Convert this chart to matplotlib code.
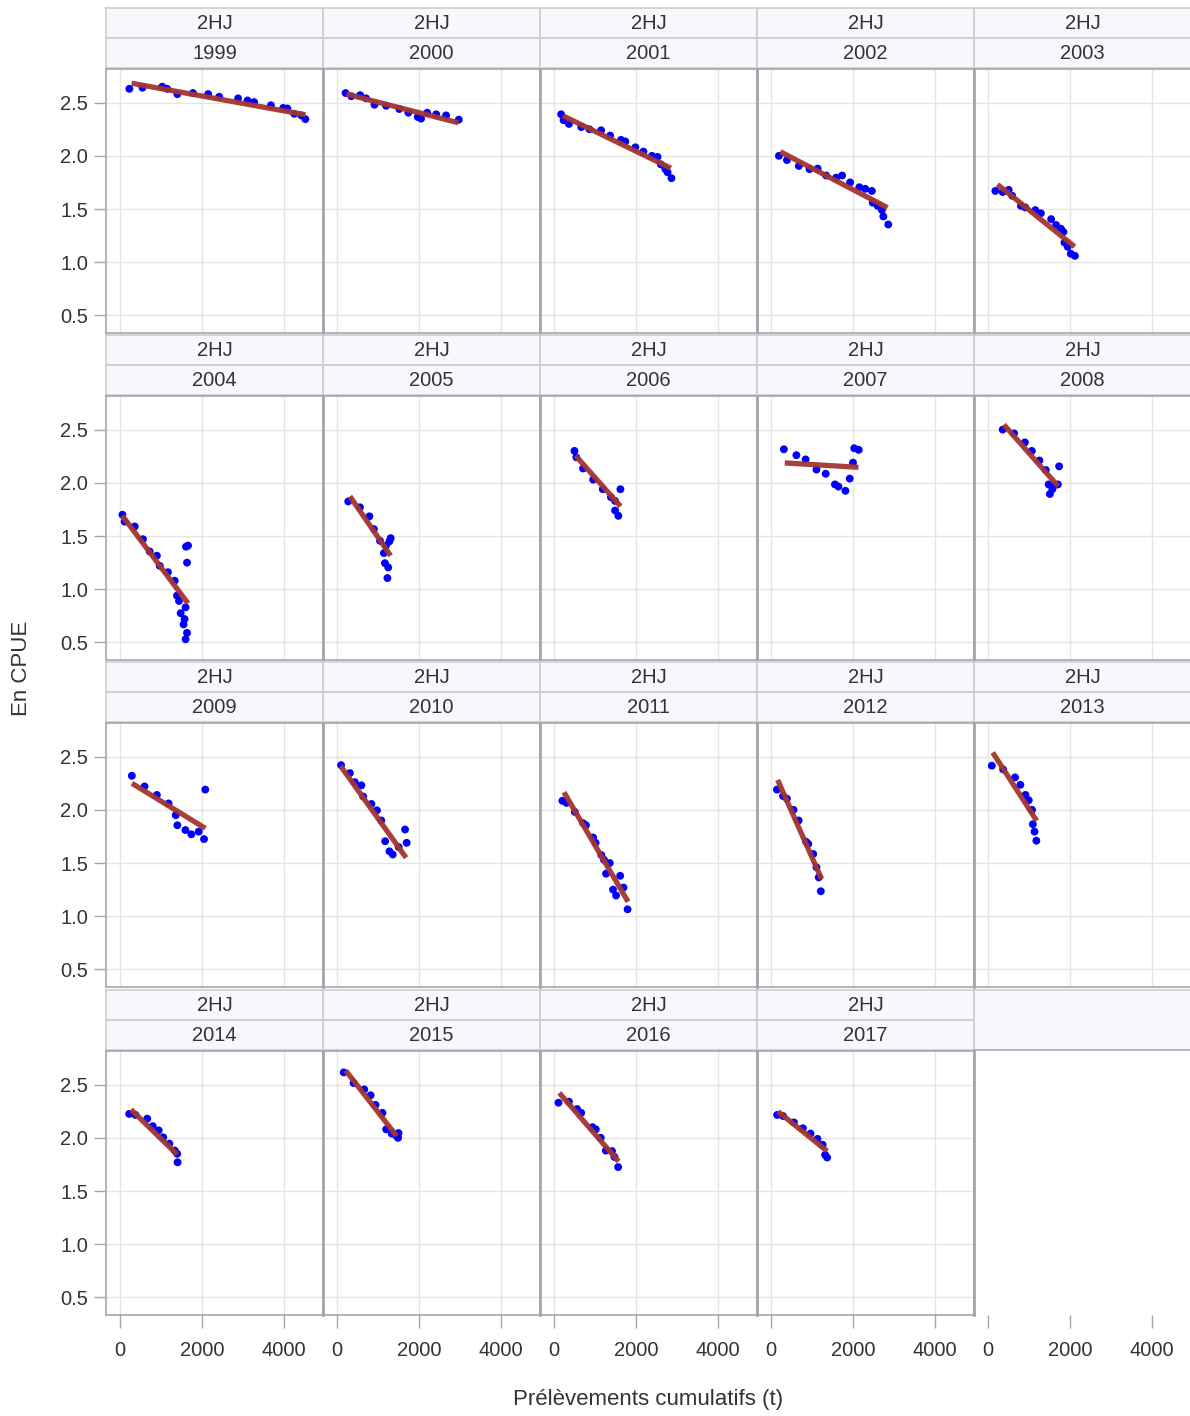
import matplotlib
matplotlib.use("Agg")
import matplotlib.pyplot as plt

plt.rcParams['font.family'] = ['Liberation Sans', 'DejaVu Sans']

group_label = "2HJ"
years = [1999, 2000, 2001, 2002, 2003, 2004, 2005, 2006, 2007, 2008,
         2009, 2010, 2011, 2012, 2013, 2014, 2015, 2016, 2017]

x1999 = [230, 550, 1030, 1150, 1400, 1780, 2150, 2420, 2880, 3110, 3270, 3680, 3980, 4080, 4250, 4420, 4520]
y1999 = [2.63, 2.64, 2.65, 2.63, 2.58, 2.59, 2.58, 2.555, 2.54, 2.52, 2.505, 2.475, 2.45, 2.445, 2.395, 2.38, 2.345]
x2000 = [210, 350, 565, 710, 915, 1200, 1520, 1740, 1970, 2050, 2200, 2420, 2660, 2970]
y2000 = [2.59, 2.56, 2.57, 2.54, 2.48, 2.47, 2.44, 2.405, 2.365, 2.35, 2.405, 2.39, 2.38, 2.34]
x2001 = [175, 235, 365, 665, 865, 1150, 1370, 1635, 1740, 1985, 2180, 2390, 2525, 2605, 2715, 2770, 2865]
y2001 = [2.39, 2.335, 2.30, 2.27, 2.25, 2.24, 2.19, 2.15, 2.135, 2.08, 2.04, 2.0, 1.99, 1.92, 1.875, 1.845, 1.79]
x2002 = [195, 390, 680, 940, 1140, 1345, 1590, 1735, 1930, 2155, 2300, 2460, 2480, 2600, 2705, 2740, 2860]
y2002 = [2.0, 1.96, 1.905, 1.875, 1.88, 1.815, 1.795, 1.815, 1.75, 1.705, 1.69, 1.67, 1.56, 1.53, 1.49, 1.43, 1.355]
x2003 = [180, 360, 505, 590, 805, 910, 1155, 1290, 1540, 1660, 1780, 1840, 1865, 1945, 2020, 2120]
y2003 = [1.67, 1.66, 1.68, 1.625, 1.53, 1.515, 1.49, 1.46, 1.405, 1.35, 1.315, 1.285, 1.185, 1.145, 1.08, 1.06]
x2004 = [60, 115, 360, 560, 725, 900, 970, 1170, 1335, 1390, 1440, 1480, 1550, 1575, 1600, 1600, 1635, 1610, 1660, 1635]
y2004 = [1.70, 1.635, 1.59, 1.47, 1.355, 1.315, 1.22, 1.16, 1.08, 0.94, 0.89, 0.775, 0.67, 0.72, 0.83, 0.53, 0.59, 1.40, 1.41, 1.25]
x2005 = [275, 560, 790, 900, 1050, 1195, 1145, 1310, 1280, 1170, 1250, 1230]
y2005 = [1.825, 1.77, 1.685, 1.565, 1.455, 1.41, 1.34, 1.48, 1.45, 1.245, 1.205, 1.105]
x2006 = [500, 545, 710, 955, 1190, 1390, 1490, 1620, 1490, 1570]
y2006 = [2.30, 2.24, 2.135, 2.03, 1.94, 1.865, 1.83, 1.94, 1.74, 1.69]
x2007 = [315, 620, 845, 1110, 1335, 1560, 1645, 1815, 1920, 2000, 2030, 2140]
y2007 = [2.315, 2.26, 2.22, 2.125, 2.085, 1.985, 1.965, 1.925, 2.04, 2.19, 2.325, 2.31]
x2008 = [360, 635, 900, 1070, 1255, 1410, 1735, 1480, 1615, 1705, 1510, 1570]
y2008 = [2.50, 2.465, 2.38, 2.30, 2.21, 2.12, 2.155, 1.985, 1.975, 1.985, 1.895, 1.94]
x2009 = [290, 600, 900, 1185, 1360, 1400, 1595, 1740, 1920, 2050, 2080]
y2009 = [2.32, 2.22, 2.14, 2.06, 1.95, 1.855, 1.81, 1.77, 1.795, 1.725, 2.19]
x2010 = [100, 315, 435, 595, 640, 840, 975, 1080, 1175, 1280, 1360, 1505, 1660, 1700]
y2010 = [2.42, 2.345, 2.26, 2.23, 2.125, 2.055, 1.995, 1.90, 1.705, 1.61, 1.58, 1.65, 1.815, 1.69]
x2011 = [205, 305, 510, 710, 780, 955, 1015, 1155, 1220, 1360, 1270, 1440, 1515, 1615, 1695, 1795]
y2011 = [2.085, 2.065, 1.98, 1.875, 1.855, 1.74, 1.69, 1.575, 1.53, 1.50, 1.40, 1.25, 1.195, 1.38, 1.27, 1.065]
x2012 = [145, 295, 390, 550, 675, 855, 910, 1030, 1110, 1165, 1215]
y2012 = [2.19, 2.13, 2.105, 2.0, 1.90, 1.70, 1.68, 1.585, 1.46, 1.365, 1.235]
x2013 = [95, 370, 660, 790, 915, 995, 1075, 1095, 1135, 1180]
y2013 = [2.415, 2.38, 2.305, 2.235, 2.14, 2.09, 2.0, 1.865, 1.795, 1.71]
x2014 = [225, 380, 665, 800, 945, 1055, 1205, 1335, 1395, 1405]
y2014 = [2.225, 2.215, 2.18, 2.11, 2.07, 2.005, 1.945, 1.88, 1.85, 1.77]
x2015 = [165, 405, 665, 820, 940, 1110, 1200, 1335, 1455, 1490, 1500]
y2015 = [2.615, 2.515, 2.455, 2.40, 2.31, 2.235, 2.08, 2.04, 2.015, 2.0, 2.045]
x2016 = [110, 365, 565, 665, 940, 1020, 1140, 1265, 1415, 1475, 1565]
y2016 = [2.33, 2.34, 2.27, 2.235, 2.10, 2.08, 2.0, 1.88, 1.875, 1.82, 1.725]
x2017 = [150, 295, 560, 780, 965, 1135, 1260, 1320, 1370]
y2017 = [2.215, 2.205, 2.145, 2.09, 2.04, 1.99, 1.935, 1.84, 1.815]

# fitted line end points, one per year
fit_x0 = [285, 230, 219, 227, 232, 57, 317, 528, 337, 388, 293, 89, 244, 163, 117, 268, 216, 131, 173]
fit_y0 = [2.682, 2.58, 2.376, 2.039, 1.731, 1.691, 1.873, 2.255, 2.187, 2.547, 2.249, 2.412, 2.165, 2.281, 2.538, 2.266, 2.631, 2.422, 2.247]
fit_x1 = [4520, 2960, 2850, 2842, 2114, 1659, 1309, 1624, 2133, 1714, 2081, 1685, 1807, 1235, 1188, 1394, 1457, 1576, 1371]
fit_y1 = [2.386, 2.311, 1.884, 1.513, 1.146, 0.867, 1.315, 1.779, 2.146, 1.967, 1.826, 1.55, 1.136, 1.35, 1.897, 1.844, 2.016, 1.778, 1.875]

xs = [x1999, x2000, x2001, x2002, x2003, x2004, x2005, x2006, x2007, x2008,
      x2009, x2010, x2011, x2012, x2013, x2014, x2015, x2016, x2017]
ys = [y1999, y2000, y2001, y2002, y2003, y2004, y2005, y2006, y2007, y2008,
      y2009, y2010, y2011, y2012, y2013, y2014, y2015, y2016, y2017]

x_ticks = [0, 2000, 4000]
y_ticks = [0.5, 1.0, 1.5, 2.0, 2.5]

W, H = 1190, 1416
fig = plt.figure(figsize=(W / 100, H / 100), dpi=100)

col_left = [106, 323, 540, 757, 974]
col_w = 217
row_top = [69, 396, 723, 1051]
plot_h = 264
strip_h = 30

txt_col = '#333333'
frame_col = '#A3A7AB'
strip_face = '#F6F8FC'
strip_edge = '#C9CDD2'
grid_col = '#E5E5E5'
point_col = '#0000FF'
line_col = '#A2352F'


def rect(px_left, px_top, pw, ph):
    return [px_left / W, 1 - (px_top + ph) / H, pw / W, ph / H]


def strip(px_left, px_top, text, height=strip_h):
    sa = fig.add_axes(rect(px_left, px_top, col_w, height))
    sa.set_facecolor(strip_face)
    sa.set_xticks([])
    sa.set_yticks([])
    for s in sa.spines.values():
        s.set_color(strip_edge)
        s.set_linewidth(1.2)
    if text:
        sa.text(0.5, 0.47, text, ha='center', va='center', fontsize=14.5,
                color=txt_col, transform=sa.transAxes)
    return sa


for i in range(20):
    r, c = divmod(i, 5)
    left = col_left[c]
    top = row_top[r]
    if i < len(years):
        strip(left, top - 2 * strip_h - 1, group_label)
        strip(left, top - strip_h - 1, str(years[i]))
    else:
        sa = strip(left, top - 2 * strip_h - 1, "", height=2 * strip_h)
        sa.spines['bottom'].set_color(frame_col)
    ax = fig.add_axes(rect(left, top, col_w, plot_h))
    ax.set_xlim(-340, 4950)
    ax.set_ylim(0.335, 2.816)
    ax.set_xticks(x_ticks)
    ax.set_yticks(y_ticks)
    ax.tick_params(axis='both', colors=frame_col, labelcolor=txt_col,
                   labelsize=14.5, length=9, width=1)
    ax.tick_params(axis='x', pad=10)
    ax.tick_params(axis='y', pad=4)
    ax.set_xticklabels([str(t) for t in x_ticks])
    ax.set_yticklabels([f"{t:.1f}" for t in y_ticks])
    if i < len(years):
        ax.grid(True, color=grid_col, lw=1, zorder=0)
        ax.set_axisbelow(True)
        for s in ax.spines.values():
            s.set_color(frame_col)
            s.set_linewidth(1.2)
        ax.spines['left'].set_linewidth(2 if c > 0 else 1.2)
        ax.scatter(xs[i], ys[i], s=32, color=point_col, edgecolors='none', zorder=3)
        ax.plot([fit_x0[i], fit_x1[i]], [fit_y0[i], fit_y1[i]], color=line_col,
                lw=3.8, alpha=0.95, solid_capstyle='butt', zorder=4)
    else:
        for s in ax.spines.values():
            s.set_visible(False)
        ax.spines['left'].set_visible(True)
        ax.spines['left'].set_color(frame_col)
        ax.spines['left'].set_linewidth(2)
    if r != 3:
        ax.tick_params(axis='x', bottom=False, labelbottom=False)
    if c != 0:
        ax.tick_params(axis='y', left=False, labelleft=False)

fig.text(22 / W, 1 - 668 / H, "En CPUE", rotation=90, ha='center', va='center',
         fontsize=16, color=txt_col)
fig.text(648 / W, 1 - 1400 / H, "Prélèvements cumulatifs (t)", ha='center', va='center',
         fontsize=16, color=txt_col)

fig.savefig("out.png", dpi=100, facecolor='white')
